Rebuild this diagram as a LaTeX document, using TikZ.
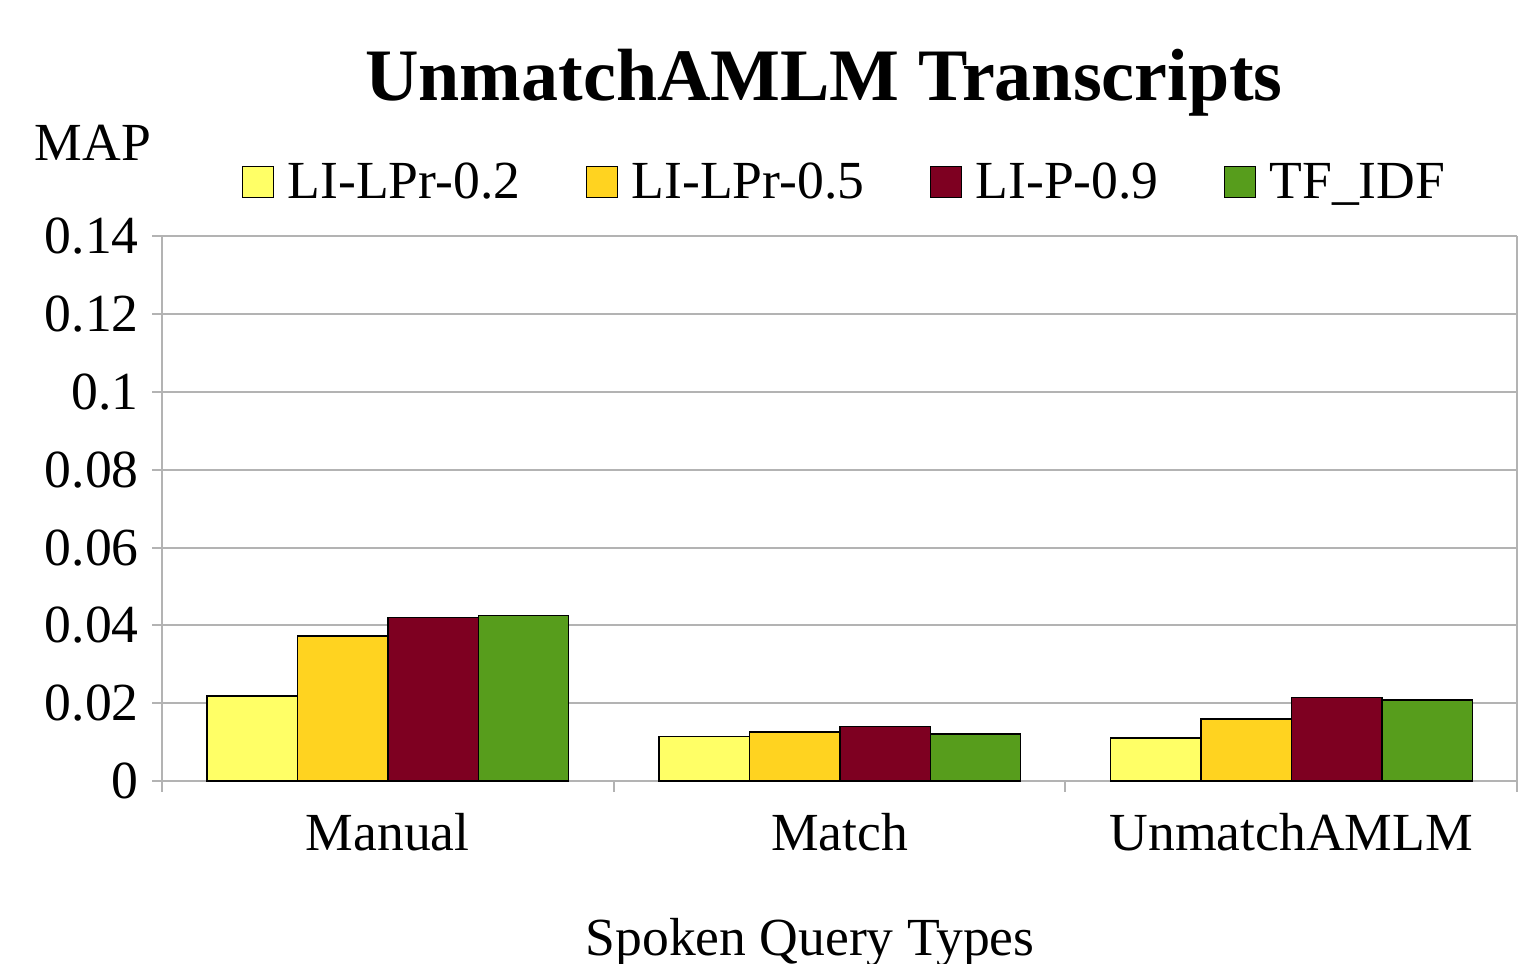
\documentclass[tikz,border=0pt]{standalone}
\usepackage{fontspec}
\setmainfont{Liberation Serif}
\usepackage{xcolor}
\usepackage{tikz}
\usetikzlibrary{positioning}

\definecolor{barYellow}{HTML}{FFFF66}
\definecolor{barGold}{HTML}{FFD320}
\definecolor{barRed}{HTML}{7E0021}
\definecolor{barGreen}{HTML}{579D1C}
\definecolor{gridGray}{HTML}{B3B3B3}

\begin{document}
\begin{tikzpicture}[
  x=0.5pt, y=-0.5pt,
  gridline/.style={draw=gridGray, line width=1pt},
  barbox/.style={draw=black, line width=0.7pt},
  keybox/.style={draw=black, line width=0.7pt, minimum width=15.5pt, minimum height=15.5pt, inner sep=0pt},
  plainlabel/.style={font=\fontsize{26.8}{30}\selectfont, inner sep=0pt},
  ticklabel/.style={plainlabel, anchor=east},
  keylabel/.style={plainlabel, anchor=base west}
]
  \useasboundingbox (0,0) rectangle (1527,964);

  % title and axis titles
  \node[font=\fontsize{37}{42}\selectfont\bfseries, inner sep=0pt, anchor=base] (title) at (824,100) {UnmatchAMLM Transcripts};
  \node[plainlabel, anchor=base] (ytitle) at (93,160) {MAP};
  \node[plainlabel, anchor=base] (xtitle) at (810,955) {Spoken Query Types};

  % grid and ticks
  \foreach \i in {0,...,7} {
    \draw[gridline] (152,{781-\i*77.8}) -- (1517,{781-\i*77.8});
  }
  \draw[gridline] (162,236.4) -- (162,781);
  \draw[gridline] (1517,236.4) -- (1517,781);
  \foreach \xt in {162,613.7,1065.3,1517} {
    \draw[gridline] (\xt,781) -- (\xt,792);
  }
  \foreach \v/\lab in {0/0,1/0.02,2/0.04,3/0.06,4/0.08,5/0.1,6/0.12,7/0.14} {
    \node[ticklabel] (tick\v) at (139,{781-\v*77.8}) {\lab};
  }

  % bars
  \foreach \xa/\val/\col in {
      207/0.0219/barYellow, 297.4/0.0373/barGold, 387.8/0.0421/barRed, 478.2/0.0425/barGreen,
      659/0.0115/barYellow, 749.4/0.0126/barGold, 839.8/0.0140/barRed, 930.2/0.0121/barGreen,
      1110.6/0.0111/barYellow, 1201/0.0159/barGold, 1291.4/0.0215/barRed, 1381.8/0.0208/barGreen} {
    \filldraw[barbox, fill=\col] (\xa,781) rectangle ++(90.4,{-\val*3889});
  }

  % categories
  \node[plainlabel, anchor=base] (catManual) at (387.8,850) {Manual};
  \node[plainlabel, anchor=base] (catMatch) at (839.5,850) {Match};
  \node[plainlabel, anchor=base] (catUnmatch) at (1291.2,850) {UnmatchAMLM};

  % legend
  \node[keybox, fill=barYellow] (keyA) at (258,182) {};
  \node[keylabel] (labA) at ([xshift=6.5pt, yshift=-8pt]keyA.east) {LI-LPr-0.2};
  \node[keybox, fill=barGold] (keyB) at (602,182) {};
  \node[keylabel] (labB) at ([xshift=6.5pt, yshift=-8pt]keyB.east) {LI-LPr-0.5};
  \node[keybox, fill=barRed] (keyC) at (946,182) {};
  \node[keylabel] (labC) at ([xshift=6.5pt, yshift=-8pt]keyC.east) {LI-P-0.9};
  \node[keybox, fill=barGreen] (keyD) at (1240,182) {};
  \node[keylabel] (labD) at ([xshift=6.5pt, yshift=-8pt]keyD.east) {TF\_IDF};
\end{tikzpicture}
\end{document}
